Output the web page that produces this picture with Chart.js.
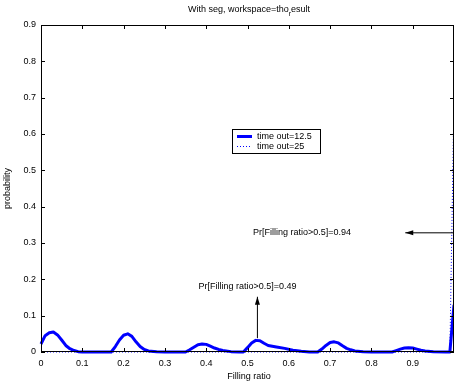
<!DOCTYPE html>
<html>
<head>
<meta charset="utf-8">
<script src="https://cdn.jsdelivr.net/npm/chart.js@4.4.1/dist/chart.umd.min.js"></script>
<style>
  html, body { margin: 0; padding: 0; background: #fff; }
  #wrap { width: 454px; height: 384px; }
</style>
</head>
<body>
<div id="wrap"><canvas id="c" width="454" height="384"></canvas></div>
<script>
// filling ratio (x) and probability for time out = 12.5
const ratio125 = [0, 0.01, 0.02, 0.03, 0.04, 0.05, 0.06, 0.07, 0.08, 0.09, 0.10,
  0.17, 0.18, 0.19, 0.20, 0.21, 0.22, 0.23, 0.24, 0.25, 0.26, 0.28, 0.30,
  0.35, 0.36, 0.37, 0.38, 0.39, 0.40, 0.41, 0.42, 0.43, 0.44, 0.46, 0.48,
  0.49, 0.50, 0.51, 0.52, 0.53, 0.54, 0.55, 0.57, 0.59, 0.61, 0.63, 0.65,
  0.67, 0.68, 0.69, 0.70, 0.71, 0.72, 0.73, 0.74, 0.75, 0.76, 0.78, 0.80,
  0.85, 0.86, 0.87, 0.88, 0.89, 0.90, 0.91, 0.92, 0.93, 0.95, 0.98, 0.99, 1.00];
const prob125 = [0.022, 0.045, 0.053, 0.055, 0.047, 0.033, 0.018, 0.009, 0.004, 0.001, 0,
  0, 0.015, 0.033, 0.046, 0.050, 0.043, 0.028, 0.015, 0.007, 0.003, 0.001, 0,
  0, 0.006, 0.013, 0.020, 0.022, 0.021, 0.016, 0.011, 0.007, 0.004, 0.001, 0,
  0, 0.012, 0.025, 0.032, 0.031, 0.024, 0.018, 0.014, 0.010, 0.005, 0.002, 0,
  0, 0.008, 0.018, 0.026, 0.028, 0.025, 0.017, 0.010, 0.006, 0.003, 0.001, 0,
  0, 0.004, 0.008, 0.011, 0.012, 0.011, 0.008, 0.005, 0.003, 0.001, 0, 0, 0.13];

// time out = 25
const ratio25 = [0, 0.99, 1.00];
const prob25 = [0, 0, 0.70];

const xTicks = [0, 0.1, 0.2, 0.3, 0.4, 0.5, 0.6, 0.7, 0.8, 0.9, 1];
const yTicks = [0, 0.1, 0.2, 0.3, 0.4, 0.5, 0.6, 0.7, 0.8, 0.9];
const seriesNames = ["time out=12.5", "time out=25"];

// annotations: arrow from -> to, text centred at "at" (data units)
const notes = [
  { text: "Pr[Filling ratio>0.5]=0.49", from: [0.524, 0.038], to: [0.524, 0.152], at: [0.5, 0.18] },
  { text: "Pr[Filling ratio>0.5]=0.94", from: [1.0, 0.328], to: [0.882, 0.328], at: [0.632, 0.328] }
];

const FONT = "Liberation Sans, Arial, Helvetica, sans-serif";
const fmt = v => String(Math.round(v * 10) / 10);

const toPts = (xs, ys) => xs.map((x, i) => ({ x: x, y: ys[i] }));

const decor = {
  id: "decor",
  afterDatasetsDraw(chart) {
    const ctx = chart.ctx;
    const a = chart.chartArea;
    const xs = chart.scales.x, ys = chart.scales.y;
    ctx.save();
    // box
    ctx.strokeStyle = "#000";
    ctx.lineWidth = 1;
    ctx.strokeRect(a.left + 0.5, a.top + 0.5, a.right - a.left - 1, a.bottom - a.top - 1);
    // inward ticks on all sides
    ctx.beginPath();
    xTicks.forEach(v => {
      const px = Math.round(xs.getPixelForValue(v)) + 0.5;
      ctx.moveTo(px, a.bottom); ctx.lineTo(px, a.bottom - 4);
      ctx.moveTo(px, a.top); ctx.lineTo(px, a.top + 4);
    });
    yTicks.forEach(v => {
      const py = Math.round(ys.getPixelForValue(v)) + 0.5;
      ctx.moveTo(a.left, py); ctx.lineTo(a.left + 4, py);
      ctx.moveTo(a.right, py); ctx.lineTo(a.right - 4, py);
    });
    ctx.stroke();

    // annotations
    ctx.fillStyle = "#000";
    ctx.font = "9px " + FONT;
    notes.forEach(n => {
      const x1 = xs.getPixelForValue(n.from[0]), y1 = ys.getPixelForValue(n.from[1]);
      const x2 = xs.getPixelForValue(n.to[0]), y2 = ys.getPixelForValue(n.to[1]);
      ctx.strokeStyle = "#000";
      ctx.lineWidth = 1;
      ctx.beginPath();
      ctx.moveTo(x1, y1); ctx.lineTo(x2, y2);
      ctx.stroke();
      const ang = Math.atan2(y2 - y1, x2 - x1);
      ctx.beginPath();
      ctx.moveTo(x2, y2);
      ctx.lineTo(x2 - 8 * Math.cos(ang) + 2.5 * Math.sin(ang), y2 - 8 * Math.sin(ang) - 2.5 * Math.cos(ang));
      ctx.lineTo(x2 - 8 * Math.cos(ang) - 2.5 * Math.sin(ang), y2 - 8 * Math.sin(ang) + 2.5 * Math.cos(ang));
      ctx.closePath();
      ctx.fill();
      ctx.textAlign = "center";
      ctx.textBaseline = "middle";
      ctx.fillText(n.text, xs.getPixelForValue(n.at[0]), ys.getPixelForValue(n.at[1]));
    });

    // legend
    const lx = 232, ly = 129, lw = 88, lh = 24;
    ctx.fillStyle = "#fff";
    ctx.fillRect(lx, ly, lw, lh);
    ctx.strokeStyle = "#000";
    ctx.lineWidth = 1;
    ctx.strokeRect(lx + 0.5, ly + 0.5, lw, lh);
    ctx.strokeStyle = "#0000ff";
    ctx.lineWidth = 3;
    ctx.beginPath(); ctx.moveTo(lx + 5, ly + 7.5); ctx.lineTo(lx + 20, ly + 7.5); ctx.stroke();
    ctx.lineWidth = 1;
    ctx.setLineDash([1, 2]);
    ctx.beginPath(); ctx.moveTo(lx + 5, ly + 17.5); ctx.lineTo(lx + 20, ly + 17.5); ctx.stroke();
    ctx.setLineDash([]);
    ctx.fillStyle = "#000";
    ctx.font = "9px " + FONT;
    ctx.textAlign = "left";
    ctx.fillText(seriesNames[0], lx + 25, ly + 7.5);
    ctx.fillText(seriesNames[1], lx + 25, ly + 17.5);

    // title and axis labels
    const cx = 249;
    ctx.textBaseline = "middle";
    const t1 = "With seg, workspace=tho", t2 = "r", t3 = "esult";
    ctx.font = "9px " + FONT;
    const w1 = ctx.measureText(t1).width, w3 = ctx.measureText(t3).width;
    ctx.font = "7px " + FONT;
    const w2 = ctx.measureText(t2).width;
    let tx = cx - (w1 + w2 + w3) / 2;
    ctx.textAlign = "left";
    ctx.font = "9px " + FONT;
    ctx.fillText(t1, tx, 10);
    ctx.font = "7px " + FONT;
    ctx.fillText(t2, tx + w1, 14);
    ctx.font = "9px " + FONT;
    ctx.fillText(t3, tx + w1 + w2, 10);

    ctx.textAlign = "center";
    ctx.fillText("Filling ratio", 249, 377);
    ctx.translate(8, (a.top + a.bottom) / 2);
    ctx.rotate(-Math.PI / 2);
    ctx.fillText("probability", 0, 0);
    ctx.restore();
  }
};

new Chart(document.getElementById("c"), {
  type: "line",
  data: {
    datasets: [
      { label: seriesNames[1], data: toPts(ratio25, prob25), borderColor: "#0000ff",
        borderWidth: 1, borderDash: [1, 2], pointRadius: 0, tension: 0, clip: 3 },
      { label: seriesNames[0], data: toPts(ratio125, prob125), borderColor: "#0000ff",
        borderWidth: 3, pointRadius: 0, tension: 0, clip: 3, borderJoinStyle: "round" }
    ]
  },
  options: {
    responsive: false,
    animation: false,
    events: [],
    layout: { padding: { top: 25, right: 0, left: 0, bottom: 0 } },
    plugins: { legend: { display: false }, title: { display: false }, tooltip: { enabled: false } },
    scales: {
      x: {
        type: "linear", min: 0, max: 1,
        afterFit: s => { s.height = 32; s.paddingRight = 0; s.paddingLeft = 0; },
        afterBuildTicks: s => { s.ticks = xTicks.map(v => ({ value: v })); },
        grid: { display: false, drawTicks: false },
        border: { display: false },
        ticks: { autoSkip: false, maxRotation: 0, padding: 6, color: "#000",
          font: { size: 9, family: FONT },
          callback: v => (v >= 1 ? "" : fmt(v)) }
      },
      y: {
        type: "linear", min: 0, max: 0.9,
        afterFit: s => { s.width = 41; s.paddingTop = 0; s.paddingBottom = 0; },
        afterBuildTicks: s => { s.ticks = yTicks.map(v => ({ value: v })); },
        grid: { display: false, drawTicks: false },
        border: { display: false },
        ticks: { autoSkip: false, padding: 5, color: "#000",
          font: { size: 9, family: FONT },
          callback: v => fmt(v) }
      }
    }
  },
  plugins: [decor]
});
</script>
</body>
</html>
